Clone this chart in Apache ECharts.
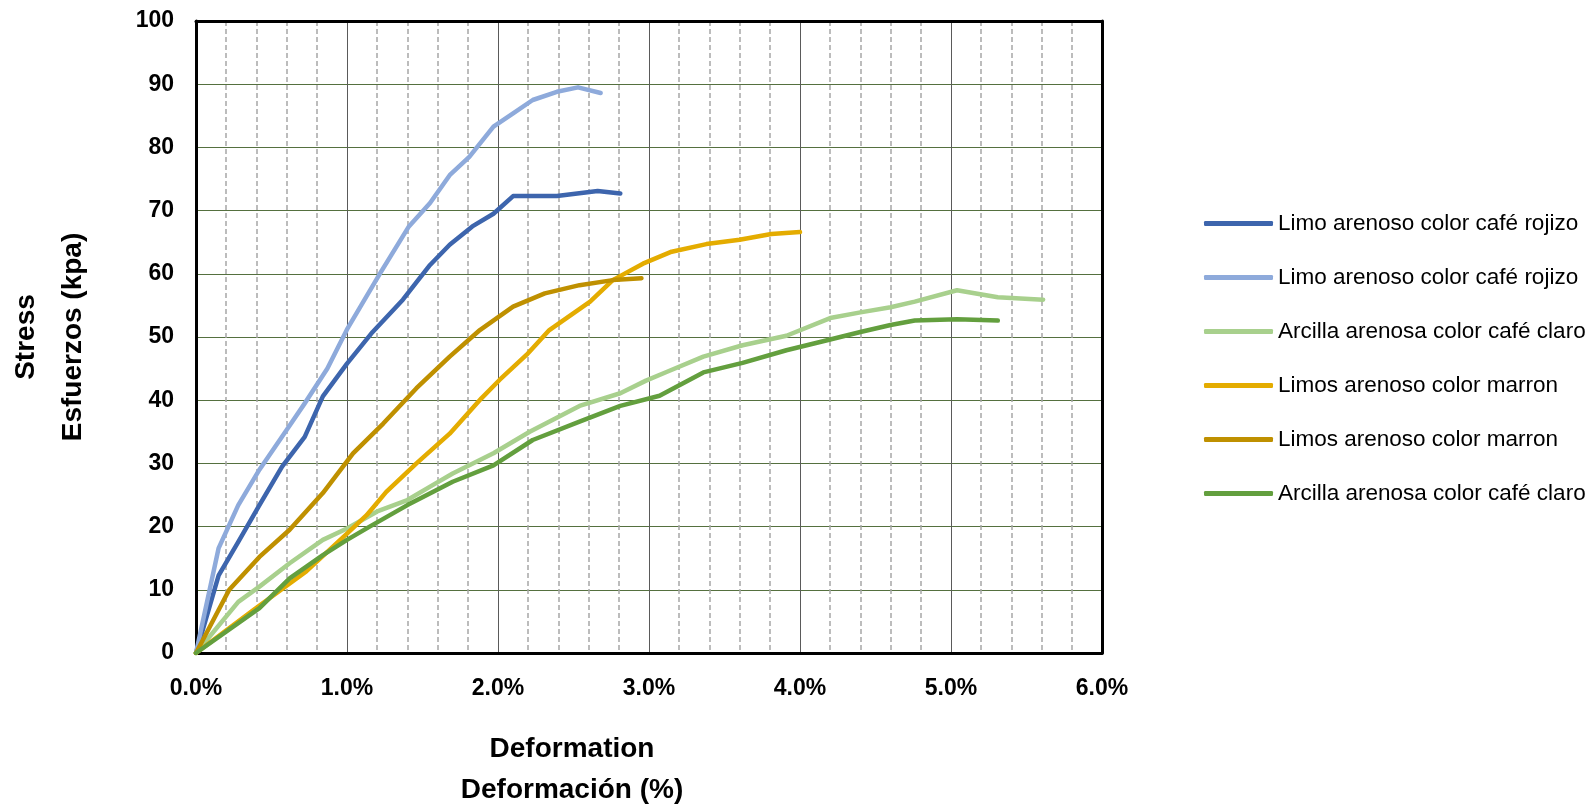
<!DOCTYPE html>
<html>
<head>
<meta charset="utf-8">
<script src="https://cdn.jsdelivr.net/npm/echarts@6/dist/echarts.min.js"></script>
<style>
  html, body { margin: 0; padding: 0; background: #fff; }
  #chart { width: 1592px; height: 808px; }
</style>
</head>
<body>
<div id="chart"></div>
<script>
// deformation (%) / stress (kpa)
const limoRojo1X = [0, 0.15, 0.28, 0.42, 0.57, 0.72, 0.84, 1.0, 1.17, 1.37, 1.55, 1.68, 1.83, 1.97, 2.10, 2.39, 2.66, 2.81];
const limoRojo1Y = [0, 12.3, 17.6, 23.4, 29.5, 34.2, 40.6, 45.8, 50.8, 55.9, 61.4, 64.6, 67.5, 69.5, 72.3, 72.3, 73.1, 72.7];

const limoRojo2X = [0, 0.15, 0.28, 0.42, 0.60, 0.72, 0.87, 1.0, 1.22, 1.41, 1.55, 1.68, 1.81, 1.97, 2.10, 2.23, 2.39, 2.53, 2.68];
const limoRojo2Y = [0, 16.6, 23.4, 29.0, 35.3, 39.5, 45.0, 51.2, 60.1, 67.5, 71.2, 75.6, 78.5, 83.3, 85.4, 87.5, 88.8, 89.5, 88.6];

const arcilla1X = [0, 0.28, 0.42, 0.62, 0.84, 1.0, 1.20, 1.40, 1.57, 1.70, 1.97, 2.21, 2.54, 2.81, 2.98, 3.12, 3.36, 3.62, 3.91, 4.20, 4.40, 4.60, 4.76, 5.04, 5.31, 5.61];
const arcilla1Y = [0, 8.1, 10.5, 14.2, 17.9, 19.7, 22.4, 24.2, 26.6, 28.4, 31.6, 35.0, 39.1, 41.1, 43.1, 44.5, 46.9, 48.7, 50.2, 53.0, 53.9, 54.7, 55.6, 57.4, 56.3, 55.9];

const limos1X = [0, 0.38, 0.73, 1.0, 1.13, 1.26, 1.46, 1.68, 1.89, 2.01, 2.19, 2.34, 2.61, 2.76, 2.96, 3.15, 3.38, 3.60, 3.81, 4.0];
const limos1Y = [0, 6.8, 12.9, 18.9, 21.8, 25.5, 30.0, 34.7, 40.3, 43.2, 47.2, 51.1, 55.6, 59.0, 61.6, 63.5, 64.7, 65.4, 66.3, 66.6];

const limos2X = [0, 0.22, 0.42, 0.62, 0.84, 1.04, 1.24, 1.46, 1.68, 1.88, 2.10, 2.31, 2.54, 2.76, 2.95];
const limos2Y = [0, 10.0, 15.2, 19.5, 25.3, 31.6, 36.3, 41.9, 46.9, 51.1, 54.8, 56.9, 58.2, 59.0, 59.3];

const arcilla2X = [0, 0.42, 0.62, 0.84, 1.0, 1.15, 1.40, 1.70, 1.97, 2.23, 2.54, 2.81, 3.07, 3.36, 3.62, 3.91, 4.20, 4.40, 4.60, 4.76, 5.04, 5.31];
const arcilla2Y = [0, 7.1, 11.8, 15.5, 17.9, 20.0, 23.4, 27.1, 29.7, 33.7, 36.6, 39.1, 40.7, 44.4, 45.9, 47.9, 49.6, 50.8, 51.9, 52.6, 52.8, 52.6];

// legend names (duplicates get a trailing space so the legend keeps both)
const seriesNames = [
  'Limo arenoso color café rojizo',
  'Limo arenoso color café rojizo ',
  'Arcilla arenosa color café claro',
  'Limos arenoso color marron',
  'Limos arenoso color marron ',
  'Arcilla arenosa color café claro '
];
const seriesColors = ['#3d65ad', '#8eaadb', '#a8d08d', '#e4ac00', '#bf9000', '#639f3e'];
const seriesX = [limoRojo1X, limoRojo2X, arcilla1X, limos1X, limos2X, arcilla2X];
const seriesY = [limoRojo1Y, limoRojo2Y, arcilla1Y, limos1Y, limos2Y, arcilla2Y];

const FONT = '"Liberation Sans", Arial, sans-serif';

const chart = echarts.init(document.getElementById('chart'));

const series = seriesNames.map(function (name, i) {
  return {
    name: name,
    type: 'line',
    symbol: 'none',
    data: seriesX[i].map(function (x, j) { return [x, seriesY[i][j]]; }),
    lineStyle: { color: seriesColors[i], width: 4.5, cap: 'round', join: 'round' },
    itemStyle: { color: seriesColors[i] },
    animation: false
  };
});

chart.setOption({
  animation: false,
  grid: { left: 196, right: 490, top: 21, bottom: 155, containLabel: false, outerBoundsMode: 'none' },
  legend: {
    orient: 'vertical',
    left: 1199,
    top: 205,
    icon: 'roundRect',
    itemWidth: 69,
    itemHeight: 5,
    itemGap: 27,
    data: seriesNames,
    textStyle: { fontFamily: FONT, fontSize: 22.5, color: '#000', lineHeight: 27 }
  },
  xAxis: [{
    type: 'value',
    min: 0,
    max: 6,
    interval: 1,
    name: 'Deformation\nDeformación (%)',
    nameLocation: 'middle',
    nameGap: 76,
    // right padding pulls the title left of the plot centre, as in the original
    nameTextStyle: { fontFamily: FONT, fontSize: 28, fontWeight: 'bold', color: '#000', lineHeight: 41, padding: [0, 154, 0, 0] },
    axisLine: { show: true, lineStyle: { color: '#000', width: 3 } },
    axisTick: { show: false },
    axisLabel: {
      margin: 24,
      fontFamily: FONT, fontSize: 23, fontWeight: 'bold', color: '#000',
      formatter: function (v) { return v.toFixed(1) + '%'; }
    },
    splitLine: { show: true, lineStyle: { color: '#5a5a5a', width: 1 } },
    minorTick: { show: false, splitNumber: 5 },
    minorSplitLine: { show: true, lineStyle: { color: '#a6a6a6', width: 1.5, type: [5, 3] } }
  }, {
    type: 'value',
    position: 'top',
    min: 0,
    max: 6,
    axisLine: { show: true, onZero: false, lineStyle: { color: '#000', width: 3 } },
    axisTick: { show: false },
    axisLabel: { show: false },
    splitLine: { show: false }
  }],
  yAxis: [{
    type: 'value',
    min: 0,
    max: 100,
    interval: 10,
    name: 'Stress\nEsfuerzos (kpa)',
    nameLocation: 'middle',
    nameGap: 99,
    nameTextStyle: { fontFamily: FONT, fontSize: 28, fontWeight: 'bold', color: '#000', lineHeight: 47 },
    axisLine: { show: true, lineStyle: { color: '#000', width: 3 } },
    axisTick: { show: false },
    axisLabel: { margin: 22, fontFamily: FONT, fontSize: 23, fontWeight: 'bold', color: '#000' },
    splitLine: { show: true, lineStyle: { color: '#55703f', width: 1 } }
  }, {
    type: 'value',
    position: 'right',
    min: 0,
    max: 100,
    axisLine: { show: true, onZero: false, lineStyle: { color: '#000', width: 3 } },
    axisTick: { show: false },
    axisLabel: { show: false },
    splitLine: { show: false }
  }],
  series: series
});
</script>
</body>
</html>
